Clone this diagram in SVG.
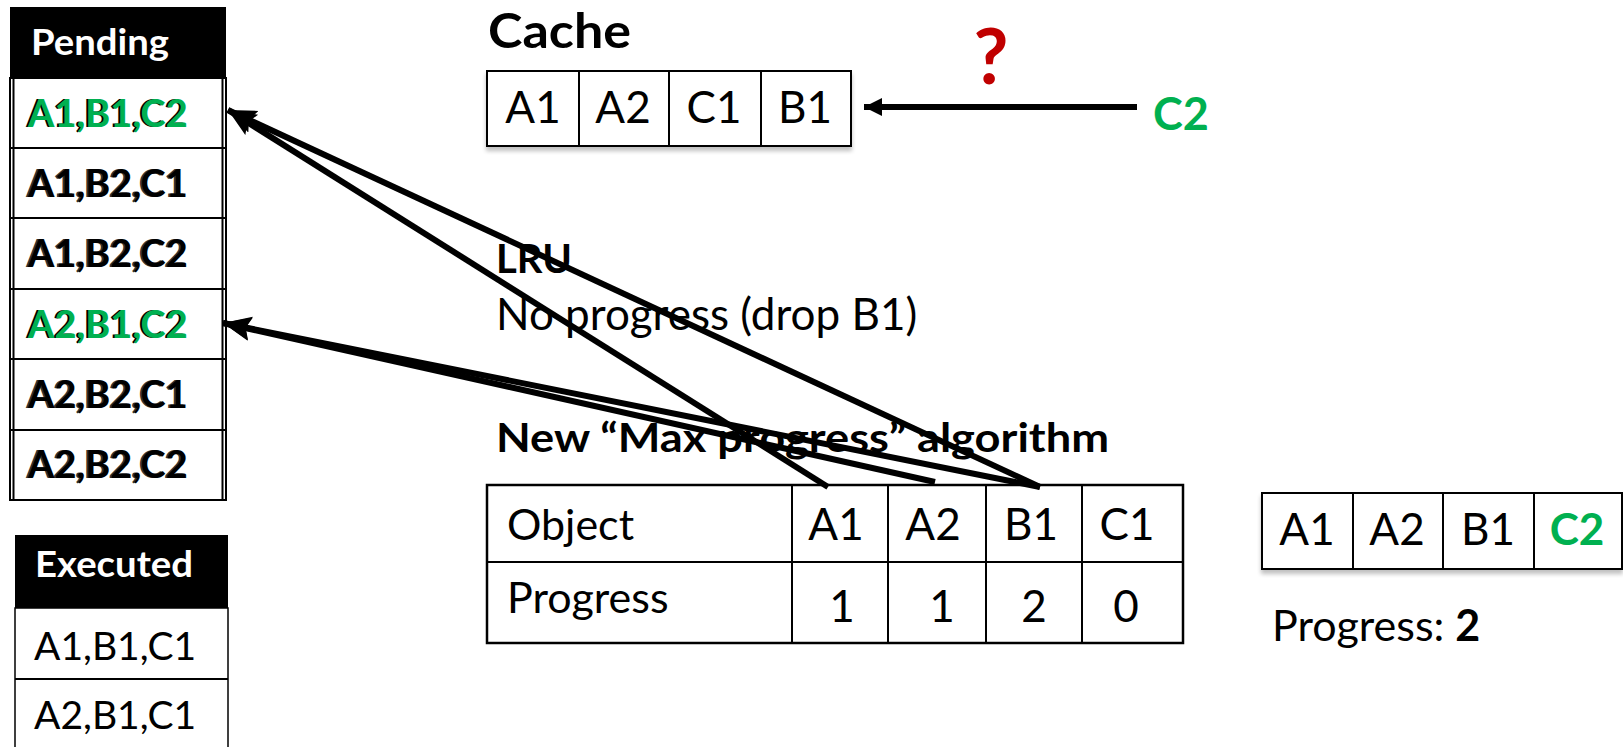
<svg xmlns="http://www.w3.org/2000/svg" width="1623" height="747" viewBox="0 0 1623 747">
<defs>
<style>
text{font-family:Lato,"Liberation Sans",sans-serif;fill:#000}
.b{font-weight:bold}
.w{fill:#fff}
.g{fill:#00B050}
.r{fill:#C00000}
.big{font-size:44px}
.row{font-size:38px;font-weight:bold}
.cell{fill:#fff;stroke:#000;stroke-width:2}
.line{stroke:#000;stroke-width:2;fill:none}
.conn{stroke:#000;stroke-width:6;fill:none}
.mid{text-anchor:middle}
</style>
<marker id="ah" markerUnits="userSpaceOnUse" markerWidth="32" markerHeight="26" refX="28" refY="12" orient="auto">
<path d="M0,0 L28,12 L0,24 L5,12 Z" fill="#000"/>
</marker>
<marker id="ahs" markerUnits="userSpaceOnUse" markerWidth="20" markerHeight="20" refX="18" refY="9" orient="auto">
<path d="M0,0 L18,9 L0,18 Z" fill="#000"/>
</marker>
<filter id="sh" x="-5%" y="-5%" width="110%" height="130%">
<feGaussianBlur in="SourceAlpha" stdDeviation="2"/>
<feOffset dx="0" dy="4" result="o"/>
<feComponentTransfer><feFuncA type="linear" slope="0.25"/></feComponentTransfer>
<feMerge><feMergeNode/><feMergeNode in="SourceGraphic"/></feMerge>
</filter>
</defs>

<g id="pending">
<rect x="10" y="7" width="216" height="71" fill="#000"/>
<text x="31" y="55" class="b w" font-size="36" textLength="138" lengthAdjust="spacingAndGlyphs">Pending</text>
<rect x="10" y="78" width="216" height="422" fill="#fff" stroke="#000" stroke-width="2"/>
<line x1="13.5" y1="78" x2="13.5" y2="500" class="line" stroke-width="1.5"/>
<line x1="222.5" y1="78" x2="222.5" y2="500" class="line" stroke-width="1.5"/>
<line x1="10" y1="148" x2="226" y2="148" class="line" stroke-width="3"/>
<line x1="10" y1="218" x2="226" y2="218" class="line" stroke-width="3"/>
<line x1="10" y1="289" x2="226" y2="289" class="line" stroke-width="3"/>
<line x1="10" y1="359" x2="226" y2="359" class="line" stroke-width="3"/>
<line x1="10" y1="430" x2="226" y2="430" class="line" stroke-width="3"/>
<line x1="10" y1="500" x2="226" y2="500" class="line" stroke-width="3"/>
<text x="26" y="127" class="row">A1,B1,C2</text>
<text x="28" y="127" class="row g">A1,B1,C2</text>
<text x="26" y="197" class="row" style="fill:#333">A1,B2,C1</text>
<text x="28" y="197" class="row">A1,B2,C1</text>
<text x="26" y="267" class="row" style="fill:#333">A1,B2,C2</text>
<text x="28" y="267" class="row">A1,B2,C2</text>
<text x="26" y="338" class="row">A2,B1,C2</text>
<text x="28" y="338" class="row g">A2,B1,C2</text>
<text x="26" y="408" class="row" style="fill:#333">A2,B2,C1</text>
<text x="28" y="408" class="row">A2,B2,C1</text>
<text x="26" y="478" class="row" style="fill:#333">A2,B2,C2</text>
<text x="28" y="478" class="row">A2,B2,C2</text>
</g>

<g id="executed">
<rect x="15" y="535" width="213" height="73" fill="#000"/>
<text x="35" y="577" class="b w" font-size="36" textLength="158" lengthAdjust="spacingAndGlyphs">Executed</text>
<rect x="15" y="608" width="213" height="150" fill="#fff" stroke="#000" stroke-width="1.5"/>
<line x1="15" y1="679" x2="228" y2="679" class="line" stroke-width="1.5"/>
<text x="34" y="660" font-size="39">A1,B1,C1</text>
<text x="34" y="729" font-size="39">A2,B1,C1</text>
</g>

<g id="cache">
<text x="488" y="48" class="b" font-size="48" textLength="143" lengthAdjust="spacingAndGlyphs">Cache</text>
<g filter="url(#sh)">
<rect x="487" y="71" width="92" height="75" class="cell"/>
<rect x="579" y="71" width="90" height="75" class="cell"/>
<rect x="669" y="71" width="92" height="75" class="cell"/>
<rect x="761" y="71" width="90" height="75" class="cell"/>
</g>
<text x="533" y="123" class="big mid">A1</text>
<text x="623" y="123" class="big mid">A2</text>
<text x="714" y="123" class="big mid">C1</text>
<text x="805" y="123" class="big mid">B1</text>
</g>

<g id="incoming">
<text x="991" y="84" class="b r mid" font-size="76">?</text>
<text x="1153" y="130" class="b g" font-size="45">C2</text>
</g>

<g id="lru">
<text x="496" y="273" class="b" font-size="40">LRU</text>
<text x="496" y="330" font-size="44">No progress (drop B1)</text>
</g>

<g id="maxprogress">
<text x="496" y="452" class="b" font-size="40" textLength="613" lengthAdjust="spacingAndGlyphs">New “Max progress” algorithm</text>
<rect x="487" y="485" width="696" height="158" fill="#fff" stroke="#000" stroke-width="2.5"/>
<line x1="487" y1="562" x2="1183" y2="562" class="line" stroke-width="2.5"/>
<line x1="792" y1="485" x2="792" y2="643" class="line" stroke-width="2.5"/>
<line x1="888" y1="485" x2="888" y2="643" class="line" stroke-width="2.5"/>
<line x1="986" y1="485" x2="986" y2="643" class="line" stroke-width="2.5"/>
<line x1="1082" y1="485" x2="1082" y2="643" class="line" stroke-width="2.5"/>
<text x="507" y="540" font-size="43">Object</text>
<text x="507" y="613" font-size="43">Progress</text>
<text x="836" y="540" class="big mid">A1</text>
<text x="933" y="540" class="big mid">A2</text>
<text x="1031" y="540" class="big mid">B1</text>
<text x="1127" y="540" class="big mid">C1</text>
<text x="842" y="622" class="big mid">1</text>
<text x="942" y="622" class="big mid">1</text>
<text x="1034" y="622" class="big mid">2</text>
<text x="1126" y="622" class="big mid">0</text>
</g>

<g id="result">
<g filter="url(#sh)">
<rect x="1262" y="493" width="91" height="76" class="cell"/>
<rect x="1353" y="493" width="90" height="76" class="cell"/>
<rect x="1443" y="493" width="91" height="76" class="cell"/>
<rect x="1534" y="493" width="88" height="76" class="cell"/>
</g>
<text x="1307" y="545" class="big mid">A1</text>
<text x="1397" y="545" class="big mid">A2</text>
<text x="1488" y="545" class="big mid">B1</text>
<text x="1577" y="545" class="big mid b g">C2</text>
<text x="1272" y="641" font-size="43">Progress: <tspan class="b">2</tspan></text>
</g>

<g id="connectors">
<line x1="1137" y1="107" x2="864" y2="107" class="conn" stroke-width="5" marker-end="url(#ahs)"/>
<line x1="828" y1="487" x2="228" y2="110" class="conn" marker-end="url(#ah)"/>
<line x1="1040" y1="487" x2="228" y2="110" class="conn" marker-end="url(#ah)"/>
<line x1="935" y1="482" x2="223" y2="323" class="conn" marker-end="url(#ah)"/>
<line x1="1040" y1="487" x2="223" y2="323" class="conn" marker-end="url(#ah)"/>
</g>
</svg>
